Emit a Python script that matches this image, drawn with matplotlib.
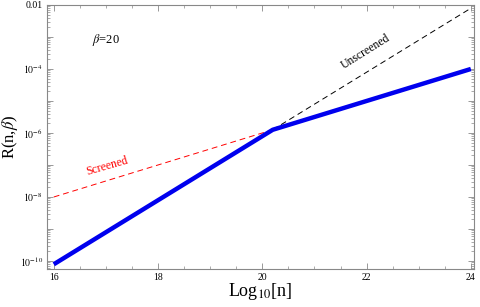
import matplotlib
matplotlib.use("Agg")
import matplotlib.pyplot as plt
import matplotlib.ticker as mticker
import numpy as np

plt.rcParams['font.family'] = ['Liberation Serif', 'DejaVu Serif']
plt.rcParams['mathtext.fontset'] = 'stix'

# Data
total_x = [16.0, 20.2, 24.0]
total_y = [7.9e-11, 1.26e-6, 1.0e-4]
screened_x = [16.0, 20.2]
screened_y = [1.0e-8, 1.26e-6]
unscreened_x = [20.2, 24.0]
unscreened_y = [1.26e-6, 7.9e-3]

xticks = [16, 18, 20, 22, 24]
ytick_exps = [-10, -8, -6, -4, -2]

fig = plt.figure(figsize=(4.81, 3.07), dpi=100)
ax = fig.add_axes([0.0977, 0.1238, 0.8877, 0.86])

ax.plot(screened_x, screened_y, color='red', lw=0.7, ls=(0, (6, 4)))
ax.plot(unscreened_x, unscreened_y, color='black', lw=0.7, ls=(0, (6, 4)))
ax.plot(total_x, total_y, color='#0000ee', lw=3.2, solid_capstyle='butt')

ax.set_yscale('log')
ax.set_xlim(15.87, 24.06)
ax.set_ylim(10**-10.25, 1e-2)

ax.set_xticks(xticks)
ax.set_xticklabels([str(t) for t in xticks])
ax.xaxis.set_minor_locator(mticker.MultipleLocator(0.5))

def yfmt(v, pos):
    e = int(round(np.log10(v)))
    if e == -2:
        return '0.01'
    if e in ytick_exps:
        return r'$10^{%d}$' % e
    return ''

ax.yaxis.set_major_locator(mticker.LogLocator(base=10, numticks=20))
ax.yaxis.set_major_formatter(mticker.FuncFormatter(yfmt))
ax.yaxis.set_minor_locator(mticker.LogLocator(base=10, subs=np.arange(2, 10), numticks=20))
ax.yaxis.set_minor_formatter(mticker.NullFormatter())

for s in ax.spines.values():
    s.set_color('#888888')
    s.set_linewidth(0.8)
ax.tick_params(which='both', direction='in', top=True, right=True, color='#888888', labelsize=7, pad=3)
ax.tick_params(which='major', length=4, width=0.6)
ax.tick_params(which='minor', length=2, width=0.5)

ax.set_xlabel(r'Log$_{10}$[n]', fontsize=13)
ax.xaxis.set_label_coords(0.5, -0.045)
ax.set_ylabel(r'R(n,$\beta$)', fontsize=12)
ax.yaxis.set_label_coords(-0.064, 0.5)

ax.text(17.0, 10**-3.1, r'$\beta$=20', fontsize=9, ha='center', va='center')
ax.text(17.03, 10**-7.03, 'Screened', color='red', fontsize=8.5, rotation=16, ha='center', va='center')
ax.text(21.98, 10**-3.45, 'Unscreened', color='black', fontsize=8.5, rotation=32, ha='center', va='center')

fig.savefig('out.png', dpi=100)
